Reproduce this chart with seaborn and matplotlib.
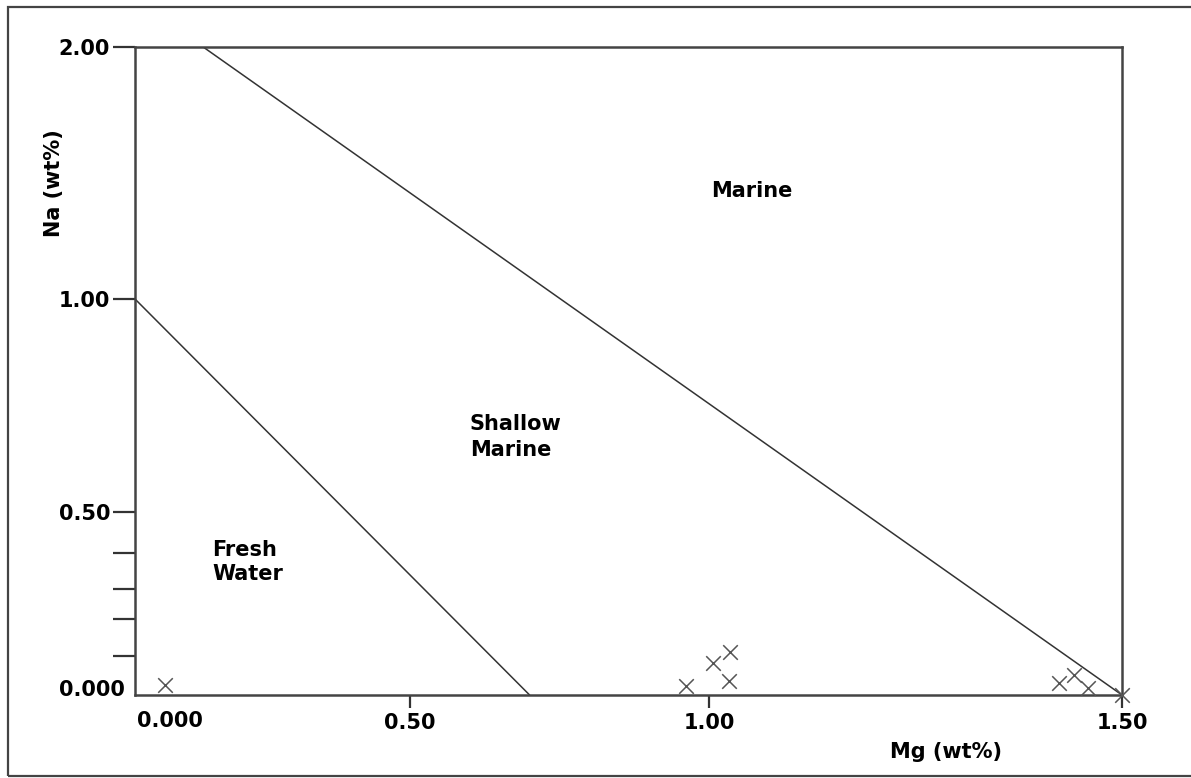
import numpy as np
import matplotlib
matplotlib.use("Agg")
import matplotlib.pyplot as plt
from matplotlib.patches import Rectangle
import seaborn as sns
import pandas as pd

# ---- data ----
mg_values = [0.055, 0.962, 1.005, 1.025, 1.024, 1.424, 1.442, 1.459, 1.500]
na_values = [0.026, 0.023, 0.082, 0.111, 0.036, 0.031, 0.051, 0.018, 0.000]

fresh_line_mg = [0.0, 0.70]
fresh_line_na = [1.0, 0.0]
marine_line_mg = [0.124, 1.50]
marine_line_na = [2.0, 0.0]

x_ticks = [0.0, 0.5, 1.0, 1.5]
x_tick_labels = ["", "0.50", "1.00", "1.50"]
y_ticks = [0.5, 1.0, 2.0]
y_tick_labels = ["0.50", "1.00", "2.00"]
y_minor_ticks = [0.1, 0.2, 0.3, 0.4]

region_labels = ["Marine", "Shallow\nMarine", "Fresh\nWater"]

# ---- scale definitions (the original uses an uneven axis spacing) ----
X_KNOTS = np.array([-1.0, 0.0, 0.5, 1.0, 1.5, 3.0])
X_POS = np.array([-550.0, 0.0, 275.0, 574.0, 987.0, 987.0 + 413.0 * 3])
Y_KNOTS = np.array([-1.0, 0.0, 0.1, 0.2, 0.3, 0.4, 0.5, 1.0, 2.0, 4.0])
Y_POS = np.array([-390.0, 0.0, 39.0, 76.0, 106.0, 142.0, 183.0, 396.0, 648.0, 1152.0])


def xf(v):
    return np.interp(v, X_KNOTS, X_POS)


def xi(p):
    return np.interp(p, X_POS, X_KNOTS)


def yf(v):
    return np.interp(v, Y_KNOTS, Y_POS)


def yi(p):
    return np.interp(p, Y_POS, Y_KNOTS)


sns.set_style("white")
plt.rcParams["font.family"] = ["DejaVu Sans"]
plt.rcParams["font.weight"] = "bold"
plt.rcParams["text.color"] = "black"
plt.rcParams["xtick.labelcolor"] = "black"
plt.rcParams["ytick.labelcolor"] = "black"
plt.rcParams["axes.labelcolor"] = "black"

FS = 15

W, H = 1191, 778
fig = plt.figure(figsize=(W / 100, H / 100), dpi=100)
fig.patch.set_facecolor("white")

# outer frame
fig.add_artist(Rectangle((8 / W, 2 / H), 1.2, 1 - 9 / H,
                         transform=fig.transFigure, fill=False,
                         edgecolor="#444444", linewidth=1.6))

ax = fig.add_axes([135 / W, (H - 695) / H, 987 / W, 648 / H])
ax.set_xscale("function", functions=(xf, xi))
ax.set_yscale("function", functions=(yf, yi))
ax.set_xlim(0, 1.5)
ax.set_ylim(0, 2.0)

df = pd.DataFrame({"Mg": mg_values, "Na": na_values})
sns.scatterplot(data=df, x="Mg", y="Na", marker="x", s=110, color="#555555",
                linewidth=1.1, ax=ax, clip_on=False, zorder=5)

ax.plot(fresh_line_mg, fresh_line_na, color="#333333", linewidth=1.1)
ax.plot(marine_line_mg, marine_line_na, color="#333333", linewidth=1.1)

for sp in ax.spines.values():
    sp.set_color("#444444")
    sp.set_linewidth(1.8)

ax.set_xticks(x_ticks)
ax.set_xticklabels(x_tick_labels)
ax.set_yticks(y_ticks)
ax.set_yticklabels(y_tick_labels)
ax.set_yticks(y_minor_ticks, minor=True)
ax.xaxis.set_minor_locator(matplotlib.ticker.NullLocator())

ax.tick_params(axis="x", which="major", direction="out", length=9, width=1.6,
               color="#333333", pad=4, labelsize=FS, bottom=True)
ax.tick_params(axis="y", which="both", direction="out", length=16, width=1.6,
               color="#333333", pad=2, labelsize=FS, left=True)
ax.tick_params(axis="y", which="minor", labelleft=False)
for lab in ax.get_xticklabels() + ax.get_yticklabels():
    lab.set_fontweight("bold")
ax.xaxis.get_major_ticks()[0].tick1line.set_visible(False)

# origin labels
ax.text(0.002, -0.025, "0.000", transform=ax.transAxes, ha="left", va="top",
        fontsize=FS, fontweight="bold")
ax.text(-0.010, 0.008, "0.000", transform=ax.transAxes, ha="right",
        va="center", fontsize=FS, fontweight="bold")

ax.set_xlabel("Mg (wt%)", fontsize=FS, fontweight="bold")
ax.set_ylabel("Na (wt%)", fontsize=FS, fontweight="bold")
ax.xaxis.set_label_coords(0.822, -0.0725)
ax.yaxis.set_label_coords(-0.072, 0.790)

ax.text(1.052, 1.43, region_labels[0], ha="center", va="center",
        fontsize=FS, fontweight="bold")
ax.text(0.60, 0.676, region_labels[1], ha="left", va="center",
        fontsize=FS, fontweight="bold", linespacing=1.35)
ax.text(0.14, 0.375, region_labels[2], ha="left", va="center",
        fontsize=FS, fontweight="bold", linespacing=1.3)

fig.savefig("out.png", dpi=100, facecolor="white")
